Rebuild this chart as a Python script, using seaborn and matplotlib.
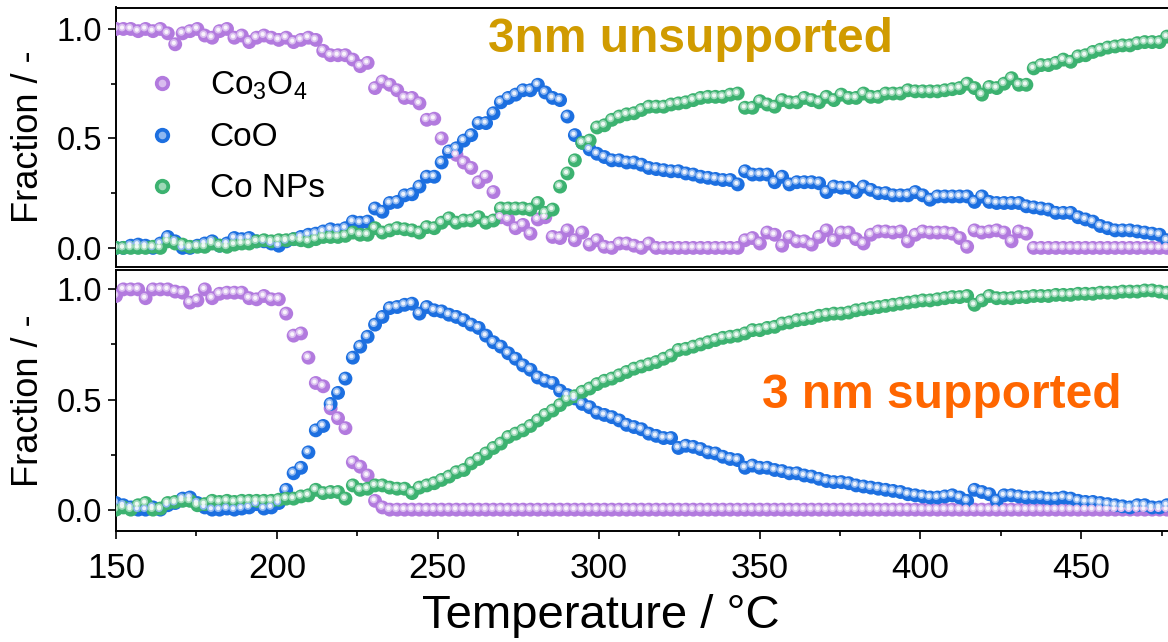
import numpy as np
import pandas as pd
import seaborn as sns
import matplotlib.pyplot as plt
import matplotlib.transforms as mtransforms
from matplotlib.colors import to_rgb
from matplotlib.lines import Line2D
from matplotlib.legend_handler import HandlerTuple
from matplotlib.ticker import MultipleLocator

# --- data (fraction vs temperature) ---
temperature = [
    150.0, 152.3, 154.6, 156.9, 159.2, 161.5, 163.8, 166.1, 168.4, 170.7,
    173.0, 175.3, 177.6, 179.9, 182.2, 184.5, 186.8, 189.1, 191.4, 193.7,
    196.0, 198.3, 200.6, 202.9, 205.2, 207.5, 209.8, 212.1, 214.4, 216.7,
    219.0, 221.3, 223.6, 225.9, 228.2, 230.5, 232.8, 235.1, 237.4, 239.7,
    242.0, 244.3, 246.6, 248.9, 251.2, 253.5, 255.8, 258.1, 260.4, 262.7,
    265.0, 267.3, 269.6, 271.9, 274.2, 276.5, 278.8, 281.1, 283.4, 285.7,
    288.0, 290.3, 292.6, 294.9, 297.2, 299.5, 301.8, 304.1, 306.4, 308.7,
    311.0, 313.3, 315.6, 317.9, 320.2, 322.5, 324.8, 327.1, 329.4, 331.7,
    334.0, 336.3, 338.6, 340.9, 343.2, 345.5, 347.8, 350.1, 352.4, 354.7,
    357.0, 359.3, 361.6, 363.9, 366.2, 368.5, 370.8, 373.1, 375.4, 377.7,
    380.0, 382.3, 384.6, 386.9, 389.2, 391.5, 393.8, 396.1, 398.4, 400.7,
    403.0, 405.3, 407.6, 409.9, 412.2, 414.5, 416.8, 419.1, 421.4, 423.7,
    426.0, 428.3, 430.6, 432.9, 435.2, 437.5, 439.8, 442.1, 444.4, 446.7,
    449.0, 451.3, 453.6, 455.9, 458.2, 460.5, 462.8, 465.1, 467.4, 469.7,
    472.0, 474.3, 476.6, 478.9,
]

# 3nm unsupported
co3o4_unsup = [
    1.00, 1.00, 1.00, 0.99, 1.00, 0.99, 1.00, 0.98, 0.93, 0.98,
    0.99, 1.00, 0.97, 0.96, 0.99, 1.00, 0.96, 0.97, 0.94, 0.96,
    0.97, 0.96, 0.95, 0.96, 0.94, 0.95, 0.96, 0.95, 0.90, 0.88,
    0.88, 0.88, 0.86, 0.83, 0.845, 0.73, 0.76, 0.745, 0.72, 0.685,
    0.685, 0.66, 0.585, 0.59, 0.50, 0.44, 0.425, 0.39, 0.365, 0.30,
    0.325, 0.255, 0.14, 0.13, 0.09, 0.105, 0.065, 0.13, 0.14, 0.05,
    0.045, 0.08, 0.035, 0.07, 0.015, 0.035, 0.005, 0.00, 0.02, 0.02,
    0.01, 0.00, 0.02, 0.00, 0.00, 0.00, 0.00, 0.00, 0.00, 0.00,
    0.00, 0.00, 0.00, 0.00, 0.00, 0.035, 0.045, 0.02, 0.07, 0.06,
    0.01, 0.05, 0.03, 0.03, 0.015, 0.05, 0.08, 0.035, 0.07, 0.07,
    0.04, 0.02, 0.06, 0.075, 0.075, 0.07, 0.075, 0.03, 0.06, 0.075,
    0.07, 0.07, 0.07, 0.065, 0.045, 0.005, 0.08, 0.07, 0.075, 0.08,
    0.07, 0.03, 0.075, 0.065, 0.00, 0.00, 0.00, 0.00, 0.00, 0.00,
    0.00, 0.00, 0.00, 0.00, 0.00, 0.00, 0.00, 0.00, 0.00, 0.00,
    0.00, 0.00, 0.00, 0.00,
]
coo_unsup = [
    0.00, 0.00, 0.01, 0.015, 0.01, 0.00, 0.02, 0.05, 0.03, 0.00,
    0.00, 0.01, 0.02, 0.03, 0.01, 0.02, 0.045, 0.04, 0.045, 0.03,
    0.03, 0.02, 0.01, 0.03, 0.04, 0.05, 0.06, 0.065, 0.075, 0.085,
    0.08, 0.09, 0.12, 0.115, 0.12, 0.18, 0.165, 0.205, 0.21, 0.24,
    0.245, 0.28, 0.325, 0.325, 0.39, 0.44, 0.455, 0.49, 0.515, 0.57,
    0.57, 0.615, 0.665, 0.685, 0.70, 0.72, 0.72, 0.745, 0.71, 0.685,
    0.675, 0.60, 0.515, 0.48, 0.45, 0.43, 0.415, 0.40, 0.40, 0.39,
    0.39, 0.38, 0.365, 0.36, 0.355, 0.35, 0.35, 0.34, 0.335, 0.325,
    0.32, 0.315, 0.31, 0.31, 0.29, 0.35, 0.335, 0.335, 0.335, 0.30,
    0.325, 0.29, 0.30, 0.30, 0.30, 0.295, 0.255, 0.28, 0.275, 0.275,
    0.255, 0.28, 0.265, 0.25, 0.25, 0.24, 0.24, 0.24, 0.255, 0.24,
    0.22, 0.235, 0.235, 0.235, 0.235, 0.235, 0.21, 0.235, 0.21, 0.205,
    0.205, 0.205, 0.205, 0.19, 0.185, 0.18, 0.175, 0.16, 0.16, 0.16,
    0.14, 0.13, 0.12, 0.10, 0.09, 0.08, 0.08, 0.08, 0.075, 0.07,
    0.065, 0.06, 0.035, 0.03,
]
co_unsup = [
    0.00, 0.00, 0.00, 0.00, 0.00, 0.005, 0.00, 0.03, 0.02, 0.015,
    0.005, 0.005, 0.005, 0.02, 0.01, 0.005, 0.015, 0.02, 0.02, 0.03,
    0.035, 0.03, 0.035, 0.035, 0.04, 0.035, 0.03, 0.04, 0.05, 0.05,
    0.05, 0.055, 0.07, 0.06, 0.06, 0.09, 0.07, 0.08, 0.09, 0.085,
    0.08, 0.07, 0.095, 0.09, 0.115, 0.135, 0.115, 0.125, 0.125, 0.14,
    0.115, 0.125, 0.18, 0.18, 0.18, 0.18, 0.175, 0.205, 0.16, 0.175,
    0.28, 0.34, 0.40, 0.48, 0.49, 0.55, 0.56, 0.585, 0.60, 0.61,
    0.615, 0.63, 0.645, 0.645, 0.645, 0.655, 0.66, 0.665, 0.675, 0.685,
    0.69, 0.69, 0.69, 0.70, 0.705, 0.64, 0.64, 0.67, 0.655, 0.645,
    0.675, 0.665, 0.665, 0.685, 0.675, 0.665, 0.69, 0.675, 0.70, 0.685,
    0.685, 0.705, 0.69, 0.69, 0.705, 0.705, 0.705, 0.72, 0.715, 0.715,
    0.715, 0.715, 0.72, 0.725, 0.73, 0.75, 0.73, 0.70, 0.735, 0.73,
    0.75, 0.775, 0.745, 0.745, 0.82, 0.835, 0.835, 0.845, 0.86, 0.85,
    0.875, 0.88, 0.895, 0.905, 0.915, 0.92, 0.925, 0.925, 0.935, 0.94,
    0.94, 0.94, 0.965, 0.96,
]

# 3 nm supported
co3o4_sup = [
    0.97, 1.00, 1.00, 1.00, 0.96, 1.00, 1.00, 1.00, 0.99, 0.985,
    0.94, 0.95, 1.00, 0.96, 0.98, 0.985, 0.985, 0.985, 0.96, 0.955,
    0.97, 0.955, 0.955, 0.89, 0.79, 0.80, 0.69, 0.575, 0.56, 0.46,
    0.415, 0.37, 0.215, 0.195, 0.155, 0.04, 0.01, 0.00, 0.00, 0.00,
    0.00, 0.00, 0.00, 0.00, 0.00, 0.00, 0.00, 0.00, 0.00, 0.00,
    0.00, 0.00, 0.00, 0.00, 0.00, 0.00, 0.00, 0.00, 0.00, 0.00,
    0.00, 0.00, 0.00, 0.00, 0.00, 0.00, 0.00, 0.00, 0.00, 0.00,
    0.00, 0.00, 0.00, 0.00, 0.00, 0.00, 0.00, 0.00, 0.00, 0.00,
    0.00, 0.00, 0.00, 0.00, 0.00, 0.00, 0.00, 0.00, 0.00, 0.00,
    0.00, 0.00, 0.00, 0.00, 0.00, 0.00, 0.00, 0.00, 0.00, 0.00,
    0.00, 0.00, 0.00, 0.00, 0.00, 0.00, 0.00, 0.00, 0.00, 0.00,
    0.00, 0.00, 0.00, 0.00, 0.00, 0.00, 0.00, 0.00, 0.00, 0.00,
    0.00, 0.00, 0.00, 0.00, 0.00, 0.00, 0.00, 0.00, 0.00, 0.00,
    0.00, 0.00, 0.00, 0.00, 0.00, 0.00, 0.00, 0.00, 0.00, 0.00,
    0.00, 0.00, 0.00, 0.00,
]
coo_sup = [
    0.03, 0.02, 0.01, 0.00, 0.00, 0.01, 0.00, 0.02, 0.03, 0.05,
    0.055, 0.03, 0.01, 0.00, 0.00, 0.005, 0.00, 0.005, 0.01, 0.025,
    0.005, 0.01, 0.03, 0.09, 0.165, 0.19, 0.26, 0.36, 0.38, 0.48,
    0.53, 0.595, 0.69, 0.74, 0.785, 0.84, 0.875, 0.915, 0.92, 0.93,
    0.935, 0.89, 0.92, 0.905, 0.90, 0.885, 0.875, 0.86, 0.84, 0.825,
    0.79, 0.76, 0.74, 0.71, 0.685, 0.655, 0.635, 0.60, 0.585, 0.575,
    0.54, 0.52, 0.505, 0.48, 0.465, 0.44, 0.43, 0.42, 0.405, 0.385,
    0.375, 0.365, 0.345, 0.335, 0.325, 0.325, 0.28, 0.29, 0.285, 0.275,
    0.26, 0.255, 0.24, 0.23, 0.225, 0.19, 0.20, 0.19, 0.19, 0.18,
    0.175, 0.165, 0.165, 0.155, 0.15, 0.14, 0.13, 0.125, 0.125, 0.12,
    0.11, 0.105, 0.10, 0.095, 0.09, 0.085, 0.08, 0.07, 0.065, 0.06,
    0.055, 0.055, 0.06, 0.065, 0.055, 0.04, 0.09, 0.08, 0.07, 0.04,
    0.065, 0.065, 0.06, 0.055, 0.055, 0.055, 0.05, 0.05, 0.055, 0.05,
    0.04, 0.035, 0.035, 0.03, 0.025, 0.02, 0.015, 0.01, 0.02, 0.02,
    0.01, 0.01, 0.02, 0.04,
]
co_sup = [
    0.00, 0.01, 0.00, 0.02, 0.03, 0.00, 0.005, 0.03, 0.035, 0.04,
    0.04, 0.02, 0.025, 0.04, 0.035, 0.04, 0.035, 0.04, 0.04, 0.04,
    0.04, 0.04, 0.045, 0.05, 0.05, 0.06, 0.065, 0.09, 0.075, 0.08,
    0.08, 0.05, 0.11, 0.09, 0.095, 0.11, 0.11, 0.10, 0.095, 0.095,
    0.075, 0.10, 0.11, 0.12, 0.135, 0.15, 0.17, 0.18, 0.21, 0.23,
    0.255, 0.28, 0.30, 0.33, 0.345, 0.36, 0.38, 0.405, 0.43, 0.45,
    0.475, 0.50, 0.515, 0.535, 0.55, 0.57, 0.585, 0.595, 0.61, 0.625,
    0.64, 0.65, 0.66, 0.67, 0.685, 0.70, 0.725, 0.73, 0.74, 0.75,
    0.76, 0.77, 0.78, 0.785, 0.79, 0.80, 0.815, 0.815, 0.825, 0.83,
    0.845, 0.85, 0.86, 0.865, 0.87, 0.88, 0.885, 0.89, 0.89, 0.895,
    0.905, 0.91, 0.915, 0.92, 0.925, 0.93, 0.935, 0.94, 0.945, 0.95,
    0.95, 0.955, 0.96, 0.965, 0.965, 0.97, 0.93, 0.95, 0.97, 0.96,
    0.96, 0.96, 0.965, 0.965, 0.97, 0.97, 0.97, 0.975, 0.975, 0.975,
    0.98, 0.98, 0.98, 0.985, 0.985, 0.985, 0.99, 0.99, 0.99, 0.995,
    0.995, 0.99, 0.985, 0.96,
]

phases = ["Co$_3$O$_4$", "CoO", "Co NPs"]
colors = ["#b27ade", "#1c6fe0", "#3cb270"]


def long_frame(series):
    parts = []
    for name, vals in zip(phases, series):
        parts.append(pd.DataFrame({"T": temperature, "frac": vals, "phase": name}))
    return pd.concat(parts, ignore_index=True)


def lighten(c, amt):
    r, g, b = to_rgb(c)
    return (r + (1 - r) * amt, g + (1 - g) * amt, b + (1 - b) * amt)


sns.set_theme(style="ticks")
plt.rcParams["font.family"] = ["Liberation Sans", "DejaVu Sans"]
plt.rcParams["mathtext.default"] = "regular"
plt.rcParams.update({"text.color": "black", "axes.labelcolor": "black",
                     "xtick.color": "black", "ytick.color": "black"})

fig = plt.figure(figsize=(11.68, 6.42), dpi=100)
W, H = 1168, 642
left, right = 116 / W, 1171.5 / W
ax_top = fig.add_axes([left, 1 - 266.5 / H, right - left, (266.5 - 7.5) / H])
ax_bot = fig.add_axes([left, 1 - 531 / H, right - left, (531 - 270) / H])

pal = dict(zip(phases, colors))
pal_mid = {k: lighten(v, 0.5) for k, v in pal.items()}
pal_hi = {k: lighten(v, 0.92) for k, v in pal.items()}

offset = mtransforms.ScaledTranslation(-1.4 / 100, 1.4 / 100, fig.dpi_scale_trans)

for ax, series in [(ax_top, [co3o4_unsup, coo_unsup, co_unsup]),
                   (ax_bot, [co3o4_sup, coo_sup, co_sup])]:
    df = long_frame(series)
    # sphere look: base ball + soft highlight + white glint
    sns.scatterplot(data=df, x="T", y="frac", hue="phase", palette=pal, s=100,
                    linewidth=0, legend=False, ax=ax, zorder=3)
    sns.scatterplot(data=df, x="T", y="frac", hue="phase", palette=pal_mid, s=30,
                    linewidth=0, legend=False, ax=ax, zorder=4,
                    transform=ax.transData + offset)
    sns.scatterplot(data=df, x="T", y="frac", hue="phase", palette=pal_hi, s=9,
                    linewidth=0, legend=False, ax=ax, zorder=5,
                    transform=ax.transData + offset)

    ax.set_xlim(150, 478)
    ax.xaxis.set_major_locator(MultipleLocator(50))
    ax.xaxis.set_minor_locator(MultipleLocator(25))
    ax.yaxis.set_major_locator(MultipleLocator(0.5))
    ax.yaxis.set_minor_locator(MultipleLocator(0.25))
    ax.yaxis.set_major_formatter(plt.FormatStrFormatter("%.1f"))
    ax.tick_params(axis="both", which="major", direction="out", length=6, width=1.2,
                   color="black", pad=4)
    ax.tick_params(axis="both", which="minor", direction="out", length=3.5, width=1.2,
                   color="black")
    ax.tick_params(axis="y", labelsize=23.5)
    ax.tick_params(axis="x", labelsize=25, pad=9)
    for sp in ax.spines.values():
        sp.set_visible(True)
        sp.set_linewidth(1.4)
        sp.set_color("black")
    ax.set_ylabel("Fraction / -", fontsize=26, va="center")
    ax.yaxis.set_label_coords((28.5 - 116) / 1055.5, 0.5)
    ax.set_xlabel("")
    ax.grid(False)

ax_top.set_ylim(-0.085, 1.098)
ax_bot.set_ylim(-0.097, 1.088)
ax_top.tick_params(axis="x", which="both", bottom=False, labelbottom=False)

ax_bot.set_xlabel("Temperature / °C", fontsize=34)
ax_bot.xaxis.set_label_coords((601 - 116) / 1055.5, -0.24)

# annotations
ax_top.text(488 / W, 1 - 40 / H, "3nm unsupported", transform=fig.transFigure,
            fontsize=34.5, fontweight="bold", color="#d09b00", ha="left", va="center")
ax_bot.text(762 / W, 1 - 395 / H, "3 nm supported", transform=fig.transFigure,
            fontsize=34.5, fontweight="bold", color="#ff6600", ha="left", va="center")

# legend with ball-style markers
handles = []
for name in phases:
    base = Line2D([], [], ls="", marker="o", ms=10, mfc=pal[name], mec=pal[name])
    mid = Line2D([], [], ls="", marker="o", ms=4.5, mfc=pal_mid[name], mec=pal_mid[name])
    handles.append((base, mid))
ax_top.legend(handles, phases, handler_map={tuple: HandlerTuple(ndivide=1, pad=0)},
              loc="upper left", bbox_to_anchor=(145 / W, 1 - 70 / H),
              bbox_transform=fig.transFigure, frameon=False, fontsize=24,
              handlelength=1.0, handletextpad=0.94, labelspacing=0.6,
              borderpad=0, borderaxespad=0)

fig.savefig("out.png", dpi=100)
